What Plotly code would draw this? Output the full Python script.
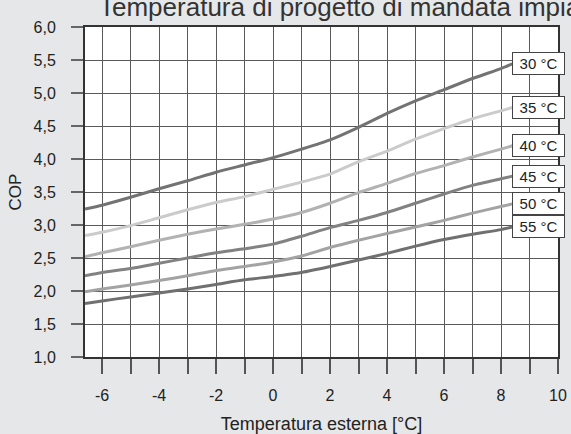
import plotly.graph_objects as go

# Data
x_vals = [-6.6, -6, -5, -4, -3, -2, -1, 0, 1, 2, 3, 4, 5, 6, 7, 8, 8.4]
cop_30 = [3.24, 3.30, 3.42, 3.55, 3.67, 3.80, 3.91, 4.02, 4.15, 4.29, 4.48, 4.69, 4.88, 5.05, 5.22, 5.37, 5.44]
cop_35 = [2.84, 2.89, 2.99, 3.11, 3.23, 3.34, 3.43, 3.54, 3.65, 3.77, 3.96, 4.12, 4.30, 4.46, 4.61, 4.73, 4.78]
cop_40 = [2.52, 2.58, 2.67, 2.77, 2.86, 2.94, 3.01, 3.09, 3.19, 3.33, 3.49, 3.63, 3.78, 3.90, 4.03, 4.15, 4.20]
cop_45 = [2.23, 2.28, 2.34, 2.42, 2.50, 2.58, 2.64, 2.71, 2.83, 2.96, 3.07, 3.19, 3.33, 3.47, 3.60, 3.70, 3.74]
cop_50 = [1.99, 2.03, 2.09, 2.16, 2.23, 2.31, 2.37, 2.44, 2.53, 2.66, 2.77, 2.87, 2.97, 3.07, 3.18, 3.28, 3.32]
cop_55 = [1.81, 1.85, 1.91, 1.97, 2.03, 2.10, 2.17, 2.22, 2.28, 2.37, 2.47, 2.57, 2.68, 2.78, 2.86, 2.93, 2.97]

series_names = ["30 °C", "35 °C", "40 °C", "45 °C", "50 °C", "55 °C"]
series_values = [cop_30, cop_35, cop_40, cop_45, cop_50, cop_55]
series_colors = ["#737373", "#cbcbcb", "#b2b2b2", "#828282", "#a3a3a3", "#707070"]

x_tick_vals = [-6, -4, -2, 0, 2, 4, 6, 8, 10]
y_tick_vals = [1.0, 1.5, 2.0, 2.5, 3.0, 3.5, 4.0, 4.5, 5.0, 5.5, 6.0]

title_text = "Temperatura di progetto di mandata impianto"
x_title = "Temperatura esterna [°C]"
y_title = "COP"

FONT = "Liberation Sans, Arial, sans-serif"

fig = go.Figure()
for name, vals, col in zip(series_names, series_values, series_colors):
    fig.add_trace(go.Scatter(x=x_vals, y=vals, mode="lines", name=name,
                             line=dict(color=col, width=3, shape="spline", smoothing=0.6),
                             showlegend=False, hoverinfo="skip"))
    fig.add_annotation(x=x_vals[-1], y=vals[-1], xref="x", yref="y", text=name,
                       xanchor="left", yanchor="middle", showarrow=False,
                       bgcolor="white", bordercolor="#444444", borderwidth=1,
                       width=49, height=19, borderpad=1,
                       font=dict(family=FONT, size=15, color="#222222"))

fig.add_annotation(x=(97 - 85) / 473, y=1 + (27 - 24) / 330, xref="paper", yref="paper",
                   text=title_text, showarrow=False, xanchor="left", yanchor="bottom",
                   font=dict(family=FONT, size=26, color="#333333"))

fig.update_layout(
    width=571, height=434,
    margin=dict(l=85, r=13, t=27, b=77, autoexpand=False),
    paper_bgcolor="#e6e7e8", plot_bgcolor="white",
    separators=",.",
    font=dict(family=FONT, size=16, color="#222222"),
)

fig.update_xaxes(
    range=[-6.6, 10], tickvals=x_tick_vals, ticktext=[str(v) for v in x_tick_vals],
    automargin=False,
    ticks="outside", ticklen=15, tickcolor="#555555", tickwidth=1.5,
    ticklabelstandoff=8,
    showgrid=True, gridcolor="#5a5a5a", gridwidth=1.3,
    minor=dict(dtick=1, tick0=0, showgrid=True, gridcolor="#5a5a5a", gridwidth=1.3,
               ticks="outside", ticklen=15, tickcolor="#555555", tickwidth=1.5),
    showline=True, linecolor="#333333", linewidth=2, mirror=True,
    zeroline=False,
    tickfont=dict(family=FONT, size=16, color="#222222"),
    title=dict(text=x_title, font=dict(family=FONT, size=18, color="#222222"), standoff=14),
)
fig.update_yaxes(
    range=[1.0, 6.0], tickvals=y_tick_vals, tickformat=".1f",
    automargin=False,
    ticks="outside", ticklen=12, tickcolor="#666666", tickwidth=1.5,
    ticklabelstandoff=12,
    showgrid=True, gridcolor="#5a5a5a", gridwidth=1.3,
    showline=True, linecolor="#333333", linewidth=2, mirror=True,
    zeroline=False,
    tickfont=dict(family=FONT, size=16, color="#222222"),
    title=dict(text=y_title, font=dict(family=FONT, size=17, color="#222222"), standoff=8),
)

fig.write_html("out.html")
